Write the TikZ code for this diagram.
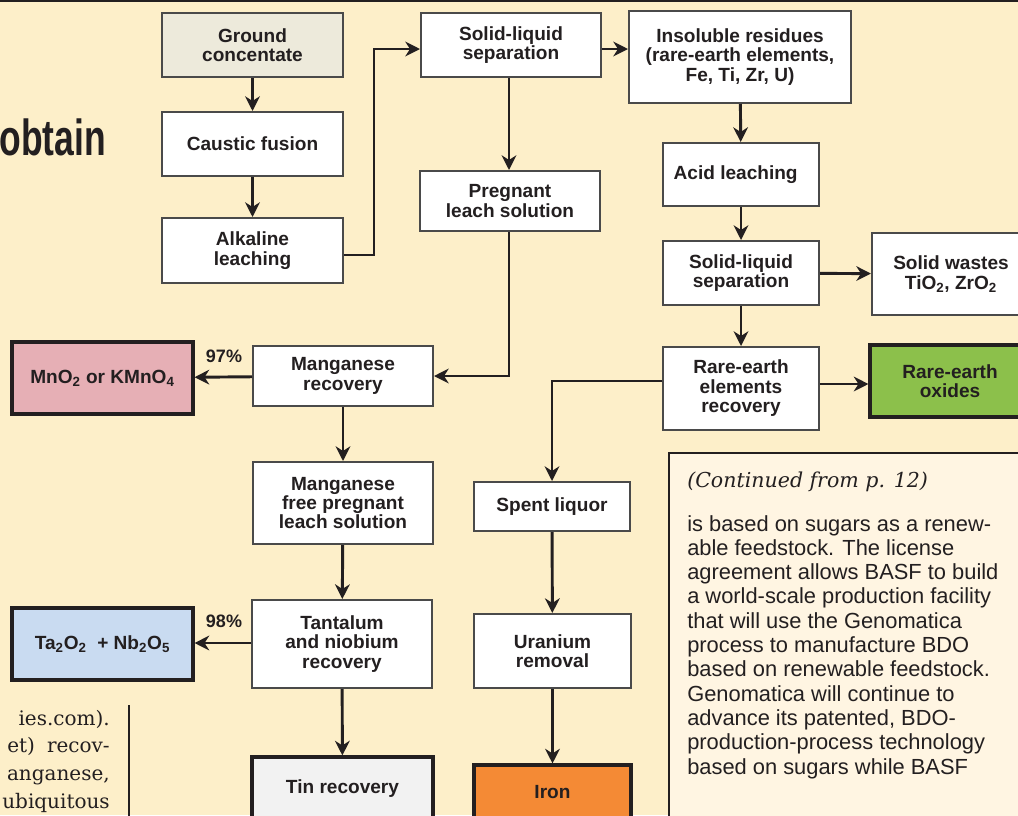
\documentclass[tikz,border=0pt]{standalone}
\usepackage{fontspec}
\setmainfont{Liberation Sans}
\newfontfamily\serifface{DejaVu Serif}
\usetikzlibrary{arrows.meta}
\definecolor{bg}{HTML}{FDEFC9}
\definecolor{ink}{HTML}{231F20}
\definecolor{boxline}{HTML}{4A4A4A}
\definecolor{gcfill}{HTML}{EDEADB}
\definecolor{pinkfill}{HTML}{E6AFB5}
\definecolor{bluefill}{HTML}{C9DBF1}
\definecolor{greenfill}{HTML}{8CC04B}
\definecolor{orangefill}{HTML}{F48A35}
\definecolor{tinfill}{HTML}{F2F2F2}
\definecolor{notefill}{HTML}{FFF5E2}
\tikzset{
  box/.style={draw=boxline, line width=1.5pt, fill=white, inner sep=0pt,
    align=center, text=ink, font=\bfseries\fontsize{14.3}{14.6}\selectfont},
  hbox/.style={box, draw=ink, line width=2.3pt},
  arr/.style={draw=ink, line width=2.2pt, -{Stealth[length=11pt,width=11pt,inset=3.5pt]}},
  pct/.style={text=ink, font=\bfseries\fontsize{13.5}{14}\selectfont, inner sep=0pt, anchor=base},
  body/.style={text=ink, font=\fontsize{16.4}{18}\selectfont, inner sep=0pt, anchor=base west},
  sbody/.style={text=ink, font=\serifface\fontsize{15}{18}\selectfont, inner sep=0pt, anchor=base east}
}
% box from (x1,y1) to (x2,y2) in pixel units
\newcommand\pbox[7]{%
  \node[#6, minimum width={(#4-#2)*0.75pt}, minimum height={(#5-#3)*0.75pt}]
    (#1) at ({(#2+#4)/2},{(#3+#5)/2}) {#7};}
\begin{document}
\begin{tikzpicture}[x=0.75pt,y=-0.75pt]
\useasboundingbox (0,0) rectangle (1018,815);
\clip (0,0) rectangle (1018,815);
\fill[bg] (0,0) rectangle (1018,815);
\draw[ink, line width=1.5pt] (0,1) -- (1018,1);

% title fragment
\node[anchor=base east, inner sep=0pt, text=ink] (ttl) at (106,155)
  {\scalebox{0.7}[1]{\bfseries\fontsize{38}{40}\selectfont obtain}};

% note box
\draw[draw=ink, line width=1.5pt, fill=notefill] (669,453) rectangle (1040,840);
\node[text=ink, font=\serifface\itshape\fontsize{15.4}{18}\selectfont, inner sep=0pt, anchor=base west] (cont) at (687,487) {(Continued from p. 12)};
\foreach \t [count=\i from 0] in {is based on sugars as a renew-, able feedstock. The license, agreement allows BASF to build, a world-scale production facility, that will use the Genomatica, process to manufacture BDO, based on renewable feedstock., Genomatica will continue to, {advance its patented, BDO-}, production-process technology, based on sugars while BASF}
  \node[body] (b\i) at (687,531+24.3*\i) {\t};

% left article text
\draw[ink, line width=1pt] (129,705) -- (129,820);
\foreach \t [count=\i from 0] in {ies.com)., {et)\hspace{0.6em}recov-}, {anganese,}, ubiquitous}
  \node[sbody] (s\i) at (110,725+27.7*\i) {\t};

% boxes
\pbox{gc}{162}{13}{343}{77}{box, fill=gcfill}{Ground\\concentate}
\pbox{cf}{162}{112}{343}{176}{box}{Caustic fusion}
\pbox{al}{162}{218}{343}{283}{box}{Alkaline\\leaching}
\pbox{sl1}{421}{13}{601}{77}{box}{Solid-liquid\\separation}
\pbox{pl}{420}{171}{600}{231}{box}{Pregnant\\leach solution}
\pbox{ir}{629}{11}{851}{103}{box}{Insoluble residues\\(rare-earth elements,\\Fe, Ti, Zr, U)}
\pbox{ac}{663}{143}{819}{206}{box}{Acid leaching\hspace*{8pt}}
\pbox{sl2}{663}{241}{819}{305}{box}{Solid-liquid\\separation}
\pbox{sw}{872}{233}{1030}{315}{box}{Solid wastes\\TiO\textsubscript{2}, ZrO\textsubscript{2}}
\pbox{ree}{663}{347}{819}{430}{box}{Rare-earth\\elements\\recovery}
\pbox{reo}{870}{345}{1030}{417}{hbox, fill=greenfill}{Rare-earth\\oxides}
\pbox{mnr}{253}{346}{433}{406}{box}{Manganese\\recovery}
\pbox{mno}{12}{342}{193}{414}{hbox, fill=pinkfill}{MnO\textsubscript{2} or KMnO\textsubscript{4}}
\pbox{mfp}{253}{462}{433}{544}{box}{Manganese\\free pregnant\\leach solution}
\pbox{tan}{252}{600}{432}{688}{box}{Tantalum\\and niobium\\recovery}
\pbox{tao}{12}{608}{193}{680}{hbox, fill=bluefill}{Ta\textsubscript{2}O\textsubscript{2}\ \ + Nb\textsubscript{2}O\textsubscript{5}}
\pbox{tin}{252}{757}{433}{820}{hbox, fill=tinfill}{Tin recovery}
\pbox{sp}{474}{482}{630}{531}{box}{Spent liquor}
\pbox{ur}{474}{614}{631}{688}{box}{Uranium\\removal}
\pbox{fe}{474}{765}{631}{820}{hbox, fill=orangefill}{Iron}

% labels
\node[pct] (p97) at (224,362) {97\%};
\node[pct] (p98) at (224,627) {98\%};

% connectors
\draw[arr] (gc) -- (cf);
\draw[arr] (cf) -- (al);
\coordinate (k1) at (374,255);
\draw[arr] (al.east |- k1) -- (k1) |- (sl1.west |- 0,49);
\draw[arr] (sl1.east |- 0,49) -- (ir.west |- 0,49);
\draw[arr] (sl1.south -| 509,0) -- (pl.north -| 509,0);
\draw[arr] (pl.south -| 509,0) |- (mnr.east);
\draw[arr] (mnr) -- (mno);
\draw[arr] (mnr) -- (mfp);
\draw[arr] (mfp) -- (tan);
\draw[arr] (tan.west |- 0,643) -- (tao.east |- 0,643);
\draw[arr] (tan) -- (tin);
\draw[arr] (ir) -- (ac);
\draw[arr] (ac) -- (sl2);
\draw[arr] (sl2) -- (sw);
\draw[arr] (sl2) -- (ree);
\draw[arr] (ree.east |- 0,384) -- (reo.west |- 0,384);
\draw[arr] (ree.west |- 0,381) -| (sp.north);
\draw[arr] (sp) -- (ur);
\draw[arr] (ur) -- (fe);
\end{tikzpicture}
\end{document}
